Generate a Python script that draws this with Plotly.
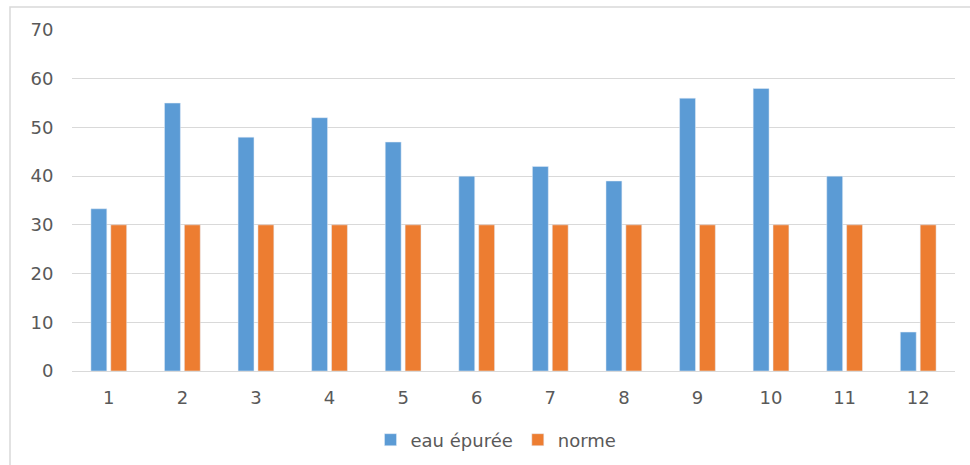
import plotly.graph_objects as go

# Monthly measurements of treated water against the regulatory limit
months = [str(i) for i in range(1, 13)]
eau_epuree = [33.3, 55, 48, 52, 47, 40, 42, 39, 56, 58, 40, 8]
norme = [30, 30, 30, 30, 30, 30, 30, 30, 30, 30, 30, 30]
y_ticks = [0, 10, 20, 30, 40, 50, 60, 70]

BLUE = "#5B9BD5"
ORANGE = "#ED7D31"
TEXT = "#595959"
GRID = "#D9D9D9"
FONT = "DejaVu Sans, Verdana, sans-serif"

fig = go.Figure()
fig.add_trace(go.Bar(x=months, y=eau_epuree, name="eau épurée", marker_color=BLUE))
fig.add_trace(go.Bar(x=months, y=norme, name="norme", marker_color=ORANGE))

L, R, T, B = 72, 15, 30, 94
W, H = 970, 465
pw, ph = W - L - R, H - T - B


def px_x(x):
    return (x - L) / pw


def px_y(y):
    return (T + ph - y) / ph


# light frame around the chart area (open past the right and bottom edges)
fig.add_shape(
    type="rect", xref="paper", yref="paper",
    x0=px_x(10), x1=px_x(990), y0=px_y(490), y1=px_y(7),
    line=dict(color="#D9D9D9", width=1.5), fillcolor="rgba(0,0,0,0)", layer="below",
)

fig.update_layout(
    width=W, height=H,
    margin=dict(l=L, r=R, t=T, b=B),
    paper_bgcolor="white", plot_bgcolor="white",
    barmode="group", bargap=0.46, bargroupgap=0.2,
    font=dict(family=FONT, size=18, color=TEXT),
    legend=dict(
        orientation="h", x=px_x(496), xanchor="center",
        yref="container", y=1 - 440 / H, yanchor="middle",
        font=dict(family=FONT, size=18, color=TEXT), itemwidth=30,
        traceorder="normal",
    ),
    xaxis=dict(
        showgrid=False, showline=True, linecolor=GRID, linewidth=1,
        ticks="outside", ticklen=10, tickcolor="rgba(0,0,0,0)",
        tickfont=dict(family=FONT, size=18, color=TEXT),
    ),
    yaxis=dict(
        range=[0, 70], tickvals=y_ticks, showgrid=True, gridcolor=GRID, gridwidth=1,
        zeroline=False, showline=False,
        ticks="outside", ticklen=14, tickcolor="rgba(0,0,0,0)",
        tickfont=dict(family=FONT, size=18, color=TEXT),
    ),
)

fig.write_html("out.html")
